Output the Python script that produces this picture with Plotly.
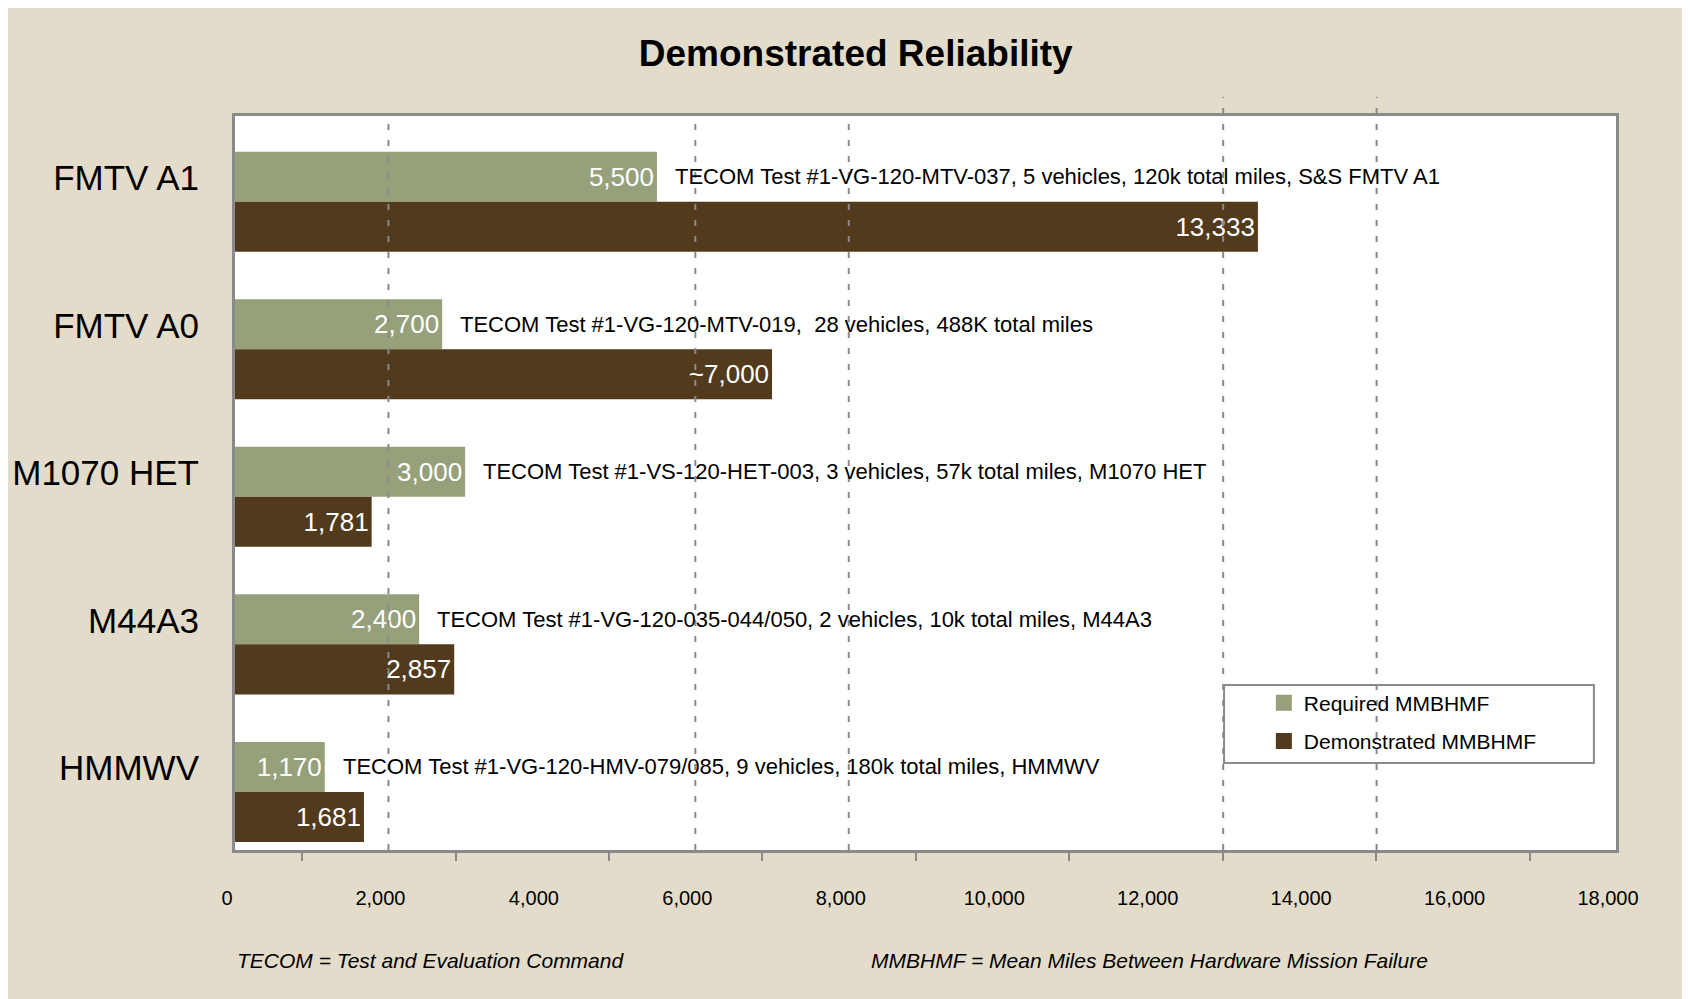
import plotly.graph_objects as go

# ---------------- data ----------------
categories = ["FMTV A1", "FMTV A0", "M1070 HET", "M44A3", "HMMWV"]
required = [5500, 2700, 3000, 2400, 1170]
demonstrated = [13333, 7000, 1781, 2857, 1681]
demonstrated_approx = [False, True, False, False, False]
descriptions = [
    "TECOM Test #1-VG-120-MTV-037, 5 vehicles, 120k total miles, S&S FMTV A1",
    "TECOM Test #1-VG-120-MTV-019,  28 vehicles, 488K total miles",
    "TECOM Test #1-VS-120-HET-003, 3 vehicles, 57k total miles, M1070 HET",
    "TECOM Test #1-VG-120-035-044/050, 2 vehicles, 10k total miles, M44A3",
    "TECOM Test #1-VG-120-HMV-079/085, 9 vehicles, 180k total miles, HMMWV",
]
x_tick_values = [0, 2000, 4000, 6000, 8000, 10000, 12000, 14000, 16000, 18000]
x_tick_labels = ["0", "2,000", "4,000", "6,000", "8,000", "10,000", "12,000",
                 "14,000", "16,000", "18,000"]
ref_lines = [2000, 6000, 8000, 12880, 14880]
ref_lines_tall = [12880, 14880]
series_names = ["Required MMBHMF", "Demonstrated MMBHMF"]

# ---------------- styles ----------------
BG = "#E3DCCB"
GREEN = "#96A17B"
BROWN = "#523A1C"
GRAY = "#8A8A8A"
ARIAL = "Liberation Sans, Arial, sans-serif"

req_text = [f"{v:,}" for v in required]
dem_text = [("~" if a else "") + f"{v:,}" for v, a in zip(demonstrated, demonstrated_approx)]

fig = go.Figure()
for vals, txt, color, name in [(required, req_text, GREEN, series_names[0]),
                               (demonstrated, dem_text, BROWN, series_names[1])]:
    fig.add_trace(go.Bar(
        y=categories, x=vals, orientation="h", name=name,
        marker=dict(color=color, line=dict(width=0)),
        text=txt, textposition="inside", insidetextanchor="end",
        textfont=dict(family=ARIAL, size=26, color="white"),
        showlegend=False, hoverinfo="x+name",
    ))
# legend entries with larger swatches
for color, name, grp in [(GREEN, series_names[0], "a"), (BROWN, series_names[1], "b")]:
    fig.add_trace(go.Scatter(
        x=[None], y=[None], mode="markers", name=name, legendgroup=grp,
        marker=dict(symbol="square", size=16, color=color, line=dict(width=0)),
        showlegend=True,
    ))

shapes = []
for v in ref_lines:
    shapes.append(dict(
        type="line", xref="x", yref="paper", x0=v, x1=v, y0=0,
        y1=1.026 if v in ref_lines_tall else 1.0,
        line=dict(color=GRAY, width=2, dash="6px,10px"), layer="above",
    ))
# legend frame
shapes.append(dict(type="rect", xref="paper", yref="paper",
                   x0=0.7162, x1=0.984, y0=0.1185, y1=0.2248,
                   line=dict(color=GRAY, width=2), fillcolor="rgba(0,0,0,0)"))

annotations = []
for cat, req, desc in zip(categories, required, descriptions):
    annotations.append(dict(
        x=req, y=cat, xref="x", yref="y", text=desc, showarrow=False,
        xanchor="left", yanchor="middle", xshift=16, yshift=25,
        font=dict(family=ARIAL, size=22, color="black"),
    ))
annotations.append(dict(
    x=0, y=-0.1499, xref="paper", yref="paper", showarrow=False,
    text="<i>TECOM = Test and Evaluation Command</i>", xanchor="left", yanchor="middle",
    font=dict(family=ARIAL, size=21, color="black"),
))
annotations.append(dict(
    x=0.459, y=-0.1499, xref="paper", yref="paper", showarrow=False,
    text="<i>MMBHMF = Mean Miles Between Hardware Mission Failure</i>",
    xanchor="left", yanchor="middle",
    font=dict(family=ARIAL, size=21, color="black"),
))

fig.update_layout(
    width=1682, height=991,
    margin=dict(l=227, r=74, t=108, b=149, autoexpand=False),
    paper_bgcolor=BG, plot_bgcolor="white",
    barmode="group", bargap=0.322, bargroupgap=0,
    title=dict(text="<b>Demonstrated Reliability</b>", x=0.504, xanchor="center",
               y=0.9546, yanchor="middle", yref="container",
               font=dict(family=ARIAL, size=37, color="black")),
    showlegend=True,
    legend=dict(x=0.745, y=0.228, xanchor="left", yanchor="top",
                bgcolor="rgba(0,0,0,0)", borderwidth=0,
                font=dict(family=ARIAL, size=21, color="black"),
                traceorder="grouped", tracegroupgap=8),
    shapes=shapes, annotations=annotations,
    xaxis=dict(range=[0, 18000], tickmode="array", tickvals=x_tick_values,
               ticktext=x_tick_labels, ticks="", showgrid=False, zeroline=False,
               showline=True, mirror=True, linecolor=GRAY, linewidth=3,
               tickfont=dict(family=ARIAL, size=20, color="black"),
               ticklabelshift=-8, ticklabelstandoff=28,
               minor=dict(tickmode="linear", tick0=875, dtick=2000, ticks="outside",
                          ticklen=8, tickwidth=2, tickcolor=GRAY, showgrid=False)),
    yaxis=dict(type="category", categoryorder="array", categoryarray=categories,
               range=[4.394, -0.582], ticks="", showgrid=False, zeroline=False,
               showline=True, mirror=True, linecolor=GRAY, linewidth=3,
               tickfont=dict(family=ARIAL, size=35, color="black"),
               ticklabelshift=24, ticklabelstandoff=26),
)

fig.write_html("out.html")
